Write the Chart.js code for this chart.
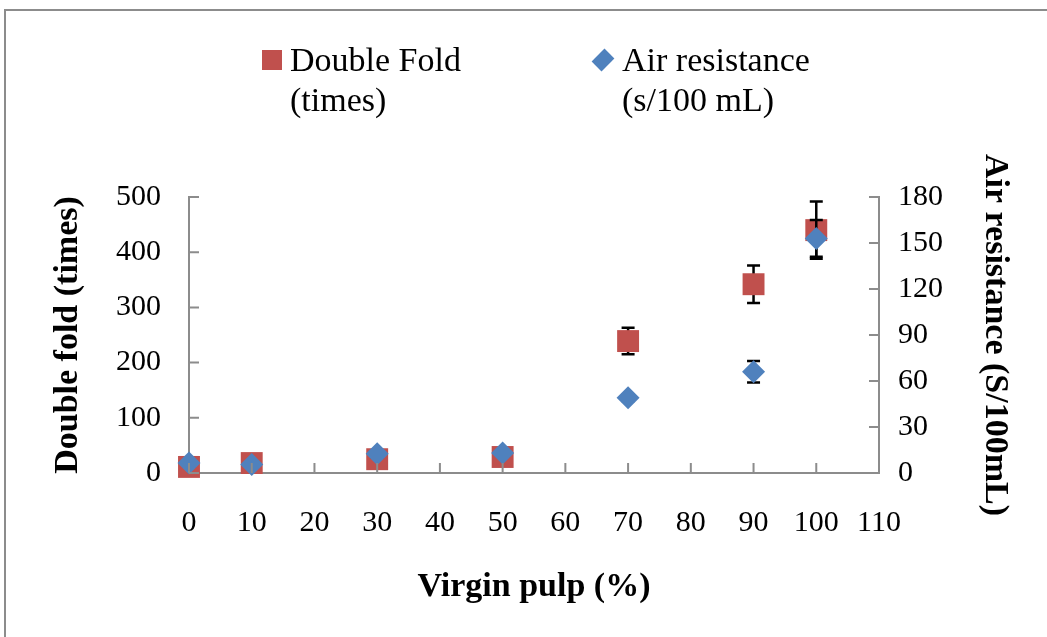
<!DOCTYPE html>
<html>
<head>
<meta charset="utf-8">
<script src="https://cdn.jsdelivr.net/npm/chart.js@4.4.0/dist/chart.umd.min.js"></script>
<style>
  body { margin: 0; background: #fff; }
  #wrap { position: relative; width: 1047px; height: 637px; }
  .leg { position: absolute; font-family: "Liberation Serif", serif; font-size: 34px; line-height: 40px; color: #000; }
  .mk { position: absolute; }
</style>
</head>
<body>
<div id="wrap">
  <canvas id="myChart" width="1047" height="637"></canvas>
  <div class="mk" style="left:262px;top:50px;width:20px;height:20px;background:#C0504D;"></div>
  <div class="leg" style="left:290px;top:40px;">Double Fold<br>(times)</div>
  <div class="mk" style="left:596px;top:53px;width:14px;height:14px;background:#4F81BD;transform:rotate(45deg) scaleY(1.3);"></div>
  <div class="leg" style="left:622px;top:40px;">Air resistance<br>(s/100 mL)</div>
</div>
<script>
// data
var pulp = [0, 10, 30, 50, 70, 90, 100];
var doubleFold = [11, 18, 25, 29, 239, 342, 440];
var doubleFoldErr = [3, 3, 3, 3, 24, 34, 52];
var airRes = [6.5, 5.5, 12.5, 13, 49, 66, 153];
var airResErr = [2, 2, 2, 2, 2, 7, 12];

var xTicks = [0, 10, 20, 30, 40, 50, 60, 70, 80, 90, 100, 110];
var leftTicks = [0, 100, 200, 300, 400, 500];
var rightTicks = [0, 30, 60, 90, 120, 150, 180];

var axisGray = '#8c8c8c';
var serif = 'Liberation Serif';

function pts(xs, ys){
    return xs.map((x,i)=>({x: x, y: ys[i]}));
}

// error bars drawn just before each dataset so markers sit on top
const errorBars = {
    id: 'errorBars',
    beforeDatasetDraw(chart, args){
        let ds = chart.data.datasets[args.index];
        if(!ds.err) return;
        let ctx = chart.ctx;
        let xs = chart.scales.x;
        let ys = chart.scales[ds.yAxisID];
        ctx.save();
        ctx.strokeStyle = '#000';
        ctx.lineWidth = 2.5;
        ds.data.forEach((p,i)=>{
            let px = xs.getPixelForValue(p.x);
            let top = ys.getPixelForValue(p.y + ds.err[i]);
            let bot = ys.getPixelForValue(p.y - ds.err[i]);
            ctx.beginPath();
            ctx.moveTo(px, top); ctx.lineTo(px, bot);
            ctx.moveTo(px - 6.5, top); ctx.lineTo(px + 6.5, top);
            ctx.moveTo(px - 6.5, bot); ctx.lineTo(px + 6.5, bot);
            ctx.stroke();
        });
        ctx.restore();
    }
};

// inside tick marks + outer frame
const frame = {
    id: 'frame',
    afterDraw(chart){
        let ctx = chart.ctx;
        let a = chart.chartArea;
        ctx.save();
        ctx.strokeStyle = axisGray;
        ctx.lineWidth = 2;
        ctx.beginPath();
        chart.scales.x.ticks.forEach(t=>{
            let px = chart.scales.x.getPixelForValue(t.value);
            ctx.moveTo(px, a.bottom); ctx.lineTo(px, a.bottom - 10);
        });
        chart.scales.y.ticks.forEach(t=>{
            let py = chart.scales.y.getPixelForValue(t.value);
            ctx.moveTo(a.left, py); ctx.lineTo(a.left + 10, py);
        });
        chart.scales.y2.ticks.forEach(t=>{
            let py = chart.scales.y2.getPixelForValue(t.value);
            ctx.moveTo(a.right, py); ctx.lineTo(a.right - 10, py);
        });
        ctx.stroke();
        ctx.strokeRect(5, 10, 1100, 700);
        ctx.restore();
    }
};

window.addEventListener('DOMContentLoaded', (event) => {

    let info = {
        datasets: [{
            label: 'Double Fold (times)',
            data: pts(pulp, doubleFold),
            err: doubleFoldErr,
            yAxisID: 'y',
            pointStyle: 'rect',
            pointRadius: 15.5,
            backgroundColor: '#C0504D',
            borderColor: '#C0504D',
            borderWidth: 0,
            clip: false,
            order: 2
        },{
            label: 'Air resistance (s/100 mL)',
            data: pts(pulp, airRes),
            err: airResErr,
            yAxisID: 'y2',
            pointStyle: 'rectRot',
            pointRadius: 11.5,
            backgroundColor: '#4F81BD',
            borderColor: '#4F81BD',
            borderWidth: 0,
            clip: false,
            order: 1
        }]
    };

    let tickFont = {family: serif, size: 30};
    let titleFont = {family: serif, size: 34, weight: 'bold'};

    let config = {
        type: 'scatter',
        data: info,
        options: {
            responsive: false,
            animation: false,
            layout: {padding: {top: 197, left: 0, right: 0, bottom: 0}},
            plugins: {legend: {display: false}, tooltip: {enabled: false}},
            scales: {
                x: {
                    type: 'linear',
                    min: 0, max: 110,
                    afterBuildTicks: s => { s.ticks = xTicks.map(v=>({value: v})); },
                    afterFit: s => { s.height = 164; },
                    grid: {display: false, drawTicks: false},
                    border: {display: true, color: axisGray, width: 2},
                    ticks: {font: tickFont, color: '#000', padding: 32, maxRotation: 0, autoSkip: false},
                    title: {display: true, text: 'Virgin pulp (%)', font: titleFont, color: '#000', padding: {bottom: 29}}
                },
                y: {
                    position: 'left',
                    min: 0, max: 500,
                    afterBuildTicks: s => { s.ticks = leftTicks.map(v=>({value: v})); },
                    afterFit: s => { s.width = 189; },
                    grid: {display: false, drawTicks: false},
                    border: {display: true, color: axisGray, width: 2},
                    ticks: {font: tickFont, color: '#000', padding: 28},
                    title: {display: true, text: 'Double fold (times)', font: titleFont, color: '#000', padding: {top: 48}}
                },
                y2: {
                    position: 'right',
                    min: 0, max: 180,
                    afterBuildTicks: s => { s.ticks = rightTicks.map(v=>({value: v})); },
                    afterFit: s => { s.width = 168; },
                    grid: {display: false, drawTicks: false},
                    border: {display: true, color: axisGray, width: 2},
                    ticks: {font: tickFont, color: '#000', padding: 19},
                    title: {display: true, text: 'Air resistance (S/100mL)', font: titleFont, color: '#000', padding: {top: 32}}
                }
            }
        },
        plugins: [errorBars, frame]
    };

    myChart = new Chart(document.getElementById('myChart'), config);
});
</script>
</body>
</html>
